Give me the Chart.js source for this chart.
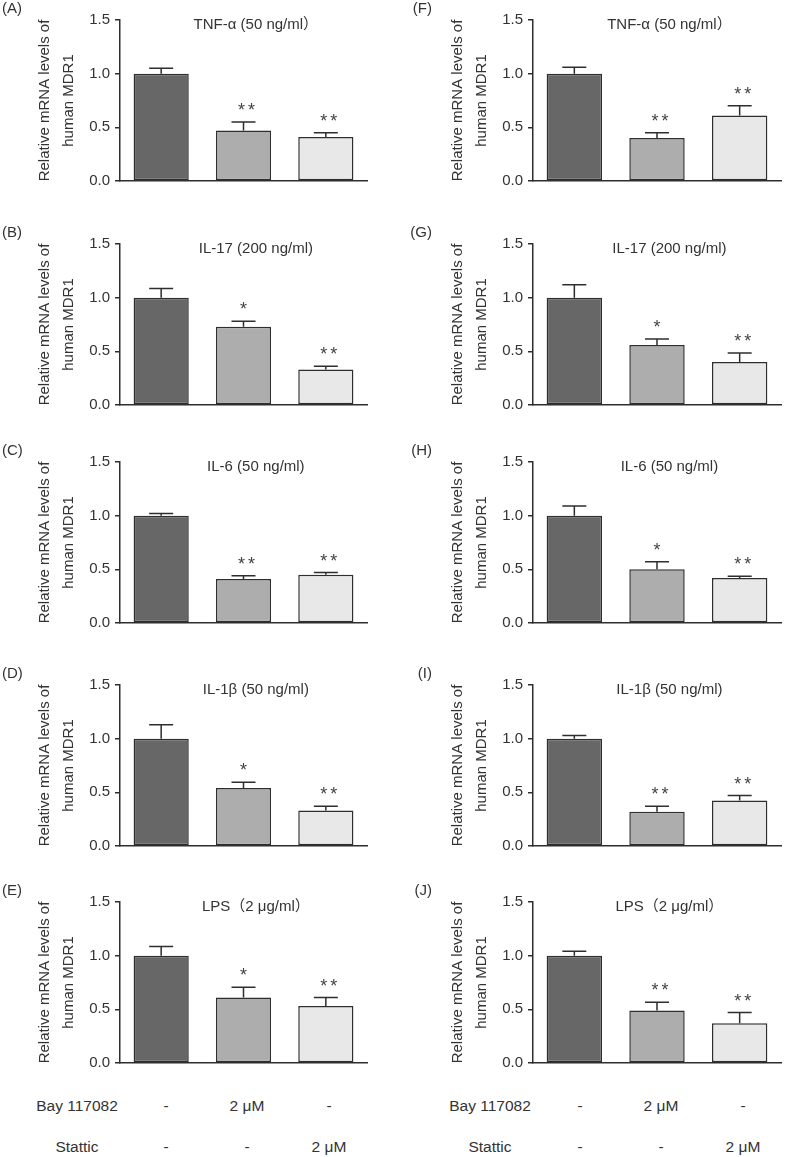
<!DOCTYPE html>
<html><head><meta charset="utf-8">
<script src="https://cdn.jsdelivr.net/npm/chart.js@4/dist/chart.umd.min.js"></script>
<style>
html,body{margin:0;padding:0;background:#fff;}
body{width:787px;height:1157px;position:relative;overflow:hidden;font-family:"Liberation Sans","Noto Sans CJK SC",sans-serif;}
canvas{position:absolute;}
.t{position:absolute;width:110px;text-align:center;font-size:15.5px;line-height:20px;color:#333;white-space:nowrap;}
</style></head><body>
<script>
// ---------- DATA ----------
const groups = ['Control', 'Bay 117082 2 μM', 'Stattic 2 μM'];
const yTickValues = [0, 0.5, 1.0, 1.5];
const panelLabels = ['(A)', '(B)', '(C)', '(D)', '(E)', '(F)', '(G)', '(H)', '(I)', '(J)'];
const panelTitles = ['TNF-α (50 ng/ml）', 'IL-17 (200 ng/ml)', 'IL-6 (50 ng/ml)', 'IL-1β (50 ng/ml)', 'LPS（2 μg/ml）',
                     'TNF-α (50 ng/ml）', 'IL-17 (200 ng/ml)', 'IL-6 (50 ng/ml)', 'IL-1β (50 ng/ml)', 'LPS（2 μg/ml）'];
const yAxisTitle = ['Relative mRNA levels of', 'human MDR1'];

const meanA = [1.00, 0.47, 0.41];  const semA = [0.05, 0.08, 0.04];   const starsA = ['', '**', '**'];
const meanB = [1.00, 0.73, 0.33];  const semB = [0.085, 0.05, 0.03];  const starsB = ['', '*', '**'];
const meanC = [1.00, 0.41, 0.45];  const semC = [0.02, 0.03, 0.02];   const starsC = ['', '**', '**'];
const meanD = [1.00, 0.54, 0.33];  const semD = [0.13, 0.055, 0.04];  const starsD = ['', '*', '**'];
const meanE = [1.00, 0.61, 0.53];  const semE = [0.085, 0.095, 0.08]; const starsE = ['', '*', '**'];
const meanF = [1.00, 0.40, 0.61];  const semF = [0.06, 0.05, 0.09];   const starsF = ['', '**', '**'];
const meanG = [1.00, 0.56, 0.40];  const semG = [0.12, 0.055, 0.085]; const starsG = ['', '*', '**'];
const meanH = [1.00, 0.50, 0.42];  const semH = [0.09, 0.07, 0.015];  const starsH = ['', '*', '**'];
const meanI = [1.00, 0.32, 0.425]; const semI = [0.03, 0.05, 0.045];  const starsI = ['', '**', '**'];
const meanJ = [1.00, 0.49, 0.37];  const semJ = [0.04, 0.075, 0.10];  const starsJ = ['', '**', '**'];

const tableRowLabels = ['Bay 117082', 'Stattic'];
const bayRow = ['-', '2 μM', '-'];
const statticRow = ['-', '-', '2 μM'];

// ---------- STYLE / LAYOUT ----------
const FONT = '"Liberation Sans","Noto Sans CJK SC",sans-serif';
const TXT = '#333';
const barFills = ['#676767', '#adadad', '#e8e8e8'];
const rowTops = [20, 244, 462, 685, 902];
const plotH = 163;
const padTop = 24, padBottom = 12;
const cols = [
  {left: 0,   width: 390, padL: 33, padR: 23, labelX: 2,  labelAlign: 'left'},
  {left: 400, width: 387, padL: 46, padR: 6,  labelX: 32, labelAlign: 'right'}
];
const panels = [
  [meanA, semA, starsA], [meanB, semB, starsB], [meanC, semC, starsC], [meanD, semD, starsD], [meanE, semE, starsE],
  [meanF, semF, starsF], [meanG, semG, starsG], [meanH, semH, starsH], [meanI, semI, starsI], [meanJ, semJ, starsJ]
];

Chart.defaults.font.family = FONT;
Chart.defaults.font.size = 15;
Chart.defaults.color = TXT;

const annotPlugin = {
  id: 'annot',
  afterDatasetsDraw(chart, args, opts) {
    const {ctx, chartArea} = chart;
    const y = chart.scales.y;
    const meta = chart.getDatasetMeta(0);
    ctx.save();
    ctx.strokeStyle = '#2e2e2e';
    ctx.lineWidth = 1.5;
    meta.data.forEach((bar, i) => {
      const top = y.getPixelForValue(opts.mean[i] + opts.sem[i]);
      ctx.beginPath();
      ctx.moveTo(bar.x, bar.y);
      ctx.lineTo(bar.x, top);
      ctx.moveTo(bar.x - 12, top);
      ctx.lineTo(bar.x + 12, top);
      ctx.stroke();
      const s = opts.stars[i];
      if (s) {
        ctx.fillStyle = '#444';
        ctx.font = '18px ' + FONT;
        ctx.textAlign = 'center';
        ctx.textBaseline = 'alphabetic';
        const n = s.length;
        const cx = bar.x + (n > 1 ? 3 : 0);
        for (let j = 0; j < n; j++) {
          ctx.fillText('*', cx + (j - (n - 1) / 2) * 10, top - 6);
        }
      }
    });
    // panel title
    ctx.fillStyle = TXT;
    ctx.font = '15px ' + FONT;
    ctx.textAlign = 'center';
    ctx.textBaseline = 'middle';
    ctx.fillText(opts.title, chartArea.left + (chartArea.right - chartArea.left) * 0.55, chartArea.top + 5);
    // panel label
    ctx.textAlign = opts.labelAlign;
    ctx.fillText(opts.label, opts.labelX, chartArea.top - 11);
    ctx.restore();
  }
};

panels.forEach((p, k) => {
  const col = cols[Math.floor(k / 5)];
  const row = k % 5;
  const cv = document.createElement('canvas');
  cv.width = col.width;
  cv.height = padTop + plotH + padBottom;
  cv.style.left = col.left + 'px';
  cv.style.top = (rowTops[row] - padTop) + 'px';
  document.body.appendChild(cv);
  const [mean, sem, stars] = p;
  new Chart(cv, {
    type: 'bar',
    data: {
      labels: groups,
      datasets: [{
        data: mean,
        backgroundColor: barFills,
        borderColor: '#2e2e2e',
        borderWidth: 1.5,
        borderSkipped: false,
        barPercentage: 0.67,
        categoryPercentage: 1
      }]
    },
    options: {
      responsive: false,
      animation: false,
      layout: {padding: {left: col.padL, right: col.padR, top: padTop, bottom: padBottom}},
      plugins: {
        legend: {display: false},
        tooltip: {enabled: false},
        annot: {mean, sem, stars, title: panelTitles[k], label: panelLabels[k], labelX: col.labelX, labelAlign: col.labelAlign}
      },
      scales: {
        x: {
          type: 'category',
          offset: true,
          grid: {display: false},
          ticks: {display: false},
          border: {display: true, color: '#2e2e2e', width: 1.5},
          afterFit(s) { s.height = 0; }
        },
        y: {
          min: 0, max: 1.5,
          afterBuildTicks(s) { s.ticks = yTickValues.map(v => ({value: v})); },
          ticks: {padding: 5, color: TXT, font: {size: 15}, callback: v => Number(v).toFixed(1)},
          grid: {drawOnChartArea: false, drawTicks: true, tickLength: 5, color: '#2e2e2e', lineWidth: 1.5},
          border: {display: true, color: '#2e2e2e', width: 1.5},
          title: {display: true, text: yAxisTitle, color: TXT, font: {size: 15, lineHeight: 1.6}, padding: {top: 0, bottom: 0}},
          afterFit(s) { s.width = 87; }
        }
      }
    },
    plugins: [annotPlugin]
  });
});

// ---------- bottom table (HTML text) ----------
const tableCols = [
  {labelC: 77, cells: [166, 247, 329]},
  {labelC: 490, cells: [580, 661, 743]}
];
const rowYs = [1096, 1137];
[bayRow, statticRow].forEach((r, ri) => {
  tableCols.forEach(tc => {
    const lab = document.createElement('div');
    lab.className = 't';
    lab.textContent = tableRowLabels[ri];
    lab.style.left = (tc.labelC - 55) + 'px';
    lab.style.top = rowYs[ri] + 'px';
    document.body.appendChild(lab);
    r.forEach((txt, ci) => {
      const d = document.createElement('div');
      d.className = 't';
      d.textContent = txt;
      d.style.left = (tc.cells[ci] - 55) + 'px';
      d.style.top = rowYs[ri] + 'px';
      document.body.appendChild(d);
    });
  });
});
</script>
</body></html>
